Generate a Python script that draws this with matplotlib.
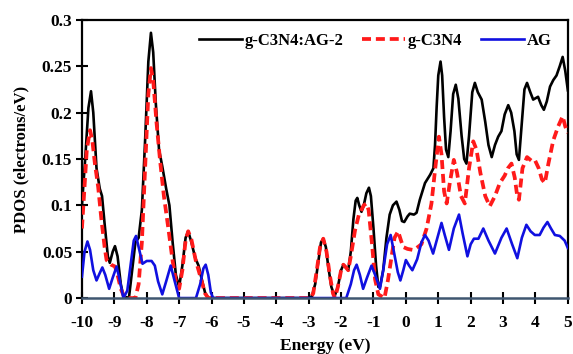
import matplotlib
matplotlib.use('Agg')
import matplotlib.pyplot as plt

plt.rcParams['font.family'] = ['Liberation Serif', 'DejaVu Serif']
plt.rcParams['font.weight'] = 'bold'

# g-C3N4:AG-2 (black)
e_black = [-10.00, -9.90, -9.80, -9.72, -9.65, -9.55, -9.45, -9.38, -9.30, -9.20, -9.14, -9.05,
           -8.98, -8.90, -8.80, -8.72, -8.55, -8.45, -8.35, -8.25, -8.15, -8.05, -7.95, -7.87,
           -7.80, -7.72, -7.62, -7.52, -7.40, -7.30, -7.20, -7.10, -7.00, -6.90, -6.80, -6.72,
           -6.62, -6.50, -6.40, -6.30, -6.20, -6.10, -3.00, -2.90, -2.80, -2.70, -2.62, -2.55,
           -2.47, -2.40, -2.30, -2.20, -2.10, -2.00, -1.93, -1.85, -1.78, -1.70, -1.62, -1.55,
           -1.50, -1.44, -1.37, -1.30, -1.22, -1.14, -1.08, -1.00, -0.92, -0.85, -0.80, -0.70,
           -0.60, -0.50, -0.40, -0.29, -0.20, -0.12, -0.05, 0.05, 0.12, 0.25, 0.33, 0.43,
           0.59, 0.75, 0.85, 0.90, 0.95, 1.00, 1.07, 1.12, 1.18, 1.24, 1.31, 1.38, 1.46, 1.54,
           1.62, 1.72, 1.80, 1.87, 1.95, 2.05, 2.13, 2.22, 2.34, 2.45, 2.55, 2.65,
           2.75, 2.85, 2.95, 3.05, 3.16, 3.25, 3.35, 3.42, 3.49, 3.58, 3.66, 3.74,
           3.84, 3.93, 4.08, 4.18, 4.26, 4.35, 4.45, 4.55, 4.65, 4.75, 4.84, 4.92, 5.00]
v_black = [0.100, 0.150, 0.205, 0.223, 0.200, 0.140, 0.118, 0.110, 0.080, 0.045, 0.038, 0.050,
           0.056, 0.045, 0.015, 0.002, 0.000, 0.030, 0.060, 0.065, 0.095, 0.170, 0.255, 0.286,
           0.265, 0.210, 0.160, 0.142, 0.118, 0.100, 0.060, 0.025, 0.012, 0.035, 0.065, 0.072,
           0.060, 0.043, 0.035, 0.020, 0.006, 0.000, 0.000, 0.002, 0.015, 0.040, 0.060, 0.064,
           0.055, 0.035, 0.012, 0.002, 0.012, 0.030, 0.036, 0.033, 0.030, 0.050, 0.085, 0.105,
           0.108, 0.100, 0.093, 0.100, 0.113, 0.119, 0.110, 0.075, 0.035, 0.012, 0.012, 0.030,
           0.065, 0.090, 0.100, 0.104, 0.095, 0.083, 0.082, 0.088, 0.091, 0.090, 0.092, 0.106,
           0.124, 0.133, 0.140, 0.165, 0.206, 0.240, 0.255, 0.240, 0.195, 0.160, 0.152, 0.180, 0.220, 0.230,
           0.215, 0.175, 0.150, 0.145, 0.175, 0.222, 0.232, 0.222, 0.214, 0.190, 0.165, 0.152,
           0.165, 0.174, 0.180, 0.198, 0.208, 0.200, 0.180, 0.155, 0.149, 0.190, 0.225, 0.232,
           0.222, 0.214, 0.217, 0.208, 0.203, 0.212, 0.228, 0.235, 0.240, 0.250, 0.260, 0.245, 0.224]

# g-C3N4 (red dashed)
e_red = [-10.00, -9.92, -9.85, -9.75, -9.68, -9.60, -9.50, -9.40, -9.30, -9.24, -9.10, -8.98,
         -8.90, -8.80, -8.68, -8.35, -8.25, -8.15, -8.05, -7.95, -7.87, -7.80, -7.70, -7.59,
         -7.47, -7.34, -7.20, -7.10, -7.00, -6.90, -6.80, -6.72, -6.62, -6.49, -6.40, -6.31,
         -6.20, -6.10, -2.95, -2.86, -2.75, -2.65, -2.55, -2.45, -2.35, -2.25, -2.19, -2.10,
         -2.00, -1.93, -1.85, -1.78, -1.70, -1.57, -1.45, -1.30, -1.22, -1.15, -1.05, -0.95,
         -0.85, -0.66, -0.55, -0.44, -0.35, -0.24, -0.15, -0.08, 0.05, 0.20, 0.33, 0.48,
         0.64, 0.79, 0.90, 1.02, 1.10, 1.18, 1.26, 1.36, 1.48, 1.58, 1.70, 1.82,
         1.95, 2.08, 2.18, 2.30, 2.45, 2.59, 2.75, 2.90, 3.05, 3.15, 3.26, 3.36,
         3.43, 3.49, 3.60, 3.74, 3.88, 3.98, 4.10, 4.20, 4.29, 4.40, 4.55, 4.70,
         4.84, 4.92, 5.00]
v_red = [0.075, 0.120, 0.160, 0.181, 0.170, 0.145, 0.120, 0.085, 0.055, 0.041, 0.036, 0.034,
         0.025, 0.010, 0.000, 0.000, 0.015, 0.060, 0.140, 0.220, 0.248, 0.235, 0.190, 0.149,
         0.110, 0.077, 0.040, 0.018, 0.010, 0.030, 0.062, 0.072, 0.063, 0.041, 0.030, 0.019,
         0.005, 0.000, 0.000, 0.005, 0.030, 0.055, 0.064, 0.050, 0.025, 0.005, 0.000, 0.012,
         0.030, 0.036, 0.033, 0.030, 0.045, 0.073, 0.090, 0.100, 0.102, 0.095, 0.060, 0.020,
         0.004, 0.000, 0.020, 0.045, 0.065, 0.072, 0.062, 0.055, 0.053, 0.052, 0.054, 0.058,
         0.075, 0.102, 0.138, 0.174, 0.155, 0.115, 0.102, 0.125, 0.149, 0.135, 0.110, 0.102,
         0.140, 0.169, 0.160, 0.135, 0.110, 0.099, 0.110, 0.124, 0.132, 0.140, 0.145, 0.130,
         0.112, 0.106, 0.140, 0.152, 0.148, 0.149, 0.140, 0.128, 0.124, 0.145, 0.170, 0.185,
         0.196, 0.185, 0.178]

# AG (blue)
e_blue = [-10.00, -9.92, -9.83, -9.75, -9.65, -9.55, -9.45, -9.37, -9.28, -9.16, -9.05, -8.93,
          -8.85, -8.72, -8.60, -8.50, -8.40, -8.33, -8.25, -8.13, -8.00, -7.85, -7.75, -7.65,
          -7.52, -7.40, -7.26, -7.15, -7.00, -6.48, -6.35, -6.25, -6.18, -6.10, -6.02, -5.95,
          -1.84, -1.70, -1.60, -1.52, -1.42, -1.32, -1.20, -1.06, -0.95, -0.80, -0.70, -0.58,
          -0.47, -0.37, -0.25, -0.17, -0.08, 0.00, 0.10, 0.20, 0.35, 0.48, 0.59, 0.70,
          0.84, 0.95, 1.10, 1.20, 1.33, 1.48, 1.64, 1.75, 1.90, 2.00, 2.10, 2.24,
          2.39, 2.55, 2.75, 2.95, 3.11, 3.28, 3.44, 3.58, 3.72, 3.85, 3.98, 4.13,
          4.25, 4.37, 4.48, 4.60, 4.75, 4.90, 5.00]
v_blue = [0.023, 0.050, 0.061, 0.052, 0.030, 0.019, 0.027, 0.033, 0.025, 0.010, 0.022, 0.034,
          0.022, 0.000, 0.008, 0.035, 0.062, 0.067, 0.055, 0.037, 0.040, 0.040, 0.035, 0.018,
          0.004, 0.018, 0.035, 0.020, 0.000, 0.000, 0.015, 0.032, 0.036, 0.025, 0.006, 0.000,
          0.000, 0.015, 0.030, 0.036, 0.025, 0.010, 0.022, 0.035, 0.025, 0.010, 0.030, 0.058,
          0.068, 0.050, 0.028, 0.019, 0.030, 0.041, 0.035, 0.030, 0.042, 0.060, 0.068, 0.062,
          0.048, 0.062, 0.081, 0.068, 0.052, 0.075, 0.090, 0.070, 0.045, 0.058, 0.064, 0.064,
          0.075, 0.062, 0.048, 0.065, 0.075, 0.058, 0.043, 0.065, 0.079, 0.072, 0.068, 0.068,
          0.076, 0.082, 0.075, 0.068, 0.067, 0.062, 0.054]

x_ticks = list(range(-10, 6))
y_ticks = [0, 0.05, 0.1, 0.15, 0.2, 0.25, 0.3]
y_tick_labels = ['0', '0.05', '0.1', '0.15', '0.2', '0.25', '0.3']

fig = plt.figure(figsize=(5.73, 3.54), dpi=100)
ax = fig.add_axes([0.143, 0.158, 0.848, 0.786])

ax.plot(e_black, v_black, color='black', lw=1.9, label='g-C3N4:AG-2', zorder=3,
        solid_joinstyle='round')
ax.plot(e_red, v_red, color='#ff1a1a', lw=2.7, ls=(0, (2.4, 1.3)), label='g-C3N4', zorder=4)
ax.plot(e_blue, v_blue, color='#1010e0', lw=1.9, label='AG', zorder=5,
        solid_joinstyle='round')

ax.set_xlim(-10, 5)
ax.set_ylim(0, 0.3)
ax.set_xticks(x_ticks)
ax.set_xticklabels([str(t) for t in x_ticks])
ax.set_yticks(y_ticks)
ax.set_yticklabels(y_tick_labels)
ax.tick_params(direction='inout', length=8, width=1.5, labelsize=12.5)
ax.tick_params(axis='x', pad=8)
ax.tick_params(axis='y', pad=3)

for s in ['left', 'top', 'right']:
    ax.spines[s].set_linewidth(1.6)
ax.spines['bottom'].set_linewidth(1.8)
ax.spines['bottom'].set_color('#3f5670')
ax.spines['bottom'].set_zorder(6)
ax.tick_params(axis='x', color='black')

ax.set_xlabel('Energy (eV)', fontsize=12.5, fontweight='bold', labelpad=5)
ax.set_ylabel('PDOS (electrons/eV)', fontsize=12, fontweight='bold', labelpad=9)

ax.legend(loc='upper right', ncol=3, frameon=False, fontsize=12, handlelength=2.6,
          columnspacing=1.1, handletextpad=0.15, borderaxespad=0.3, bbox_to_anchor=(0.99, 0.995))

fig.savefig('out.png', dpi=100)
